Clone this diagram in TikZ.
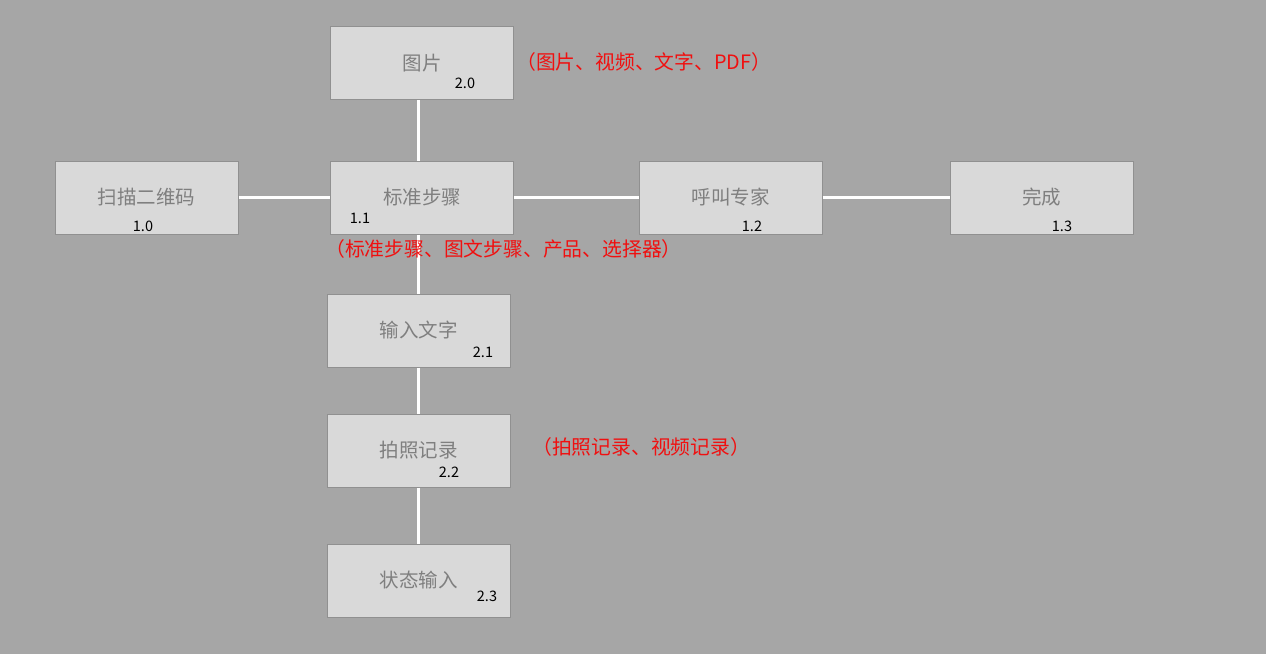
\documentclass[tikz,border=0pt]{standalone}
\usepackage{fontspec}
\setmainfont{Noto Sans CJK SC}
\usepackage{tikz}
\usetikzlibrary{positioning}

\definecolor{bggray}{HTML}{A6A6A6}
\definecolor{boxfill}{HTML}{D9D9D9}
\definecolor{boxline}{HTML}{909090}
\definecolor{labgray}{HTML}{7F7F7F}
\definecolor{notered}{HTML}{F01010}

\tikzset{
  stepbox/.style={draw=boxline, line width=1pt, fill=boxfill, minimum width=183pt,
    minimum height=73pt, inner sep=0pt, text=labgray,
    font=\fontsize{19.5}{22}\selectfont},
  num/.style={inner sep=0pt, text=black, font=\fontsize{14.5}{16}\selectfont},
  note/.style={inner sep=0pt, anchor=west, text=notered, font=\fontsize{19.8}{22}\selectfont},
  link/.style={draw=white, line width=3pt}
}

\begin{document}
\begin{tikzpicture}[x=1pt, y=-1pt]
  \fill[bggray] (0,0) rectangle (1266,654);
  \useasboundingbox (0,0) rectangle (1266,654);

  % main row
  \node[stepbox] (scan) at (146.5,197.5) {扫描二维码};
  \node[stepbox] (std)  at (422,197.5)   {标准步骤};
  \node[stepbox] (call) at (730.5,197.5) {呼叫专家};
  \node[stepbox] (done) at (1041.5,197.5) {完成};
  % column
  \node[stepbox] (pic)  at (422,63)      {图片};
  \node[stepbox] (txt)  at (418.5,330.5) {输入文字};
  \node[stepbox] (rec)  at (418.5,450.5) {拍照记录};
  \node[stepbox] (stat) at (418.5,580.5) {状态输入};

  \path[link]
    (scan) edge (std)
    (std)  edge (call)
    (call) edge (done)
    (pic.south -| txt.north) edge (std.north -| txt.north)
    (std.south -| txt.north) edge (txt.north)
    (txt) edge (rec)
    (rec) edge (stat);

  % numbers
  \node[num] at (465,83)  {2.0};
  \node[num] at (143,226) {1.0};
  \node[num] at (360,218) {1.1};
  \node[num] at (752,226) {1.2};
  \node[num] at (1062,226) {1.3};
  \node[num] at (483,352) {2.1};
  \node[num] at (449,472) {2.2};
  \node[num] at (487,596) {2.3};

  % notes
  \node[note] (picnote) at (516,62)  {（图片、视频、文字、PDF）};
  \node[note] (stdnote) at (325,249) {（标准步骤、图文步骤、产品、选择器）};
  \node[note] (recnote) at (532,447) {（拍照记录、视频记录）};
\end{tikzpicture}
\end{document}
